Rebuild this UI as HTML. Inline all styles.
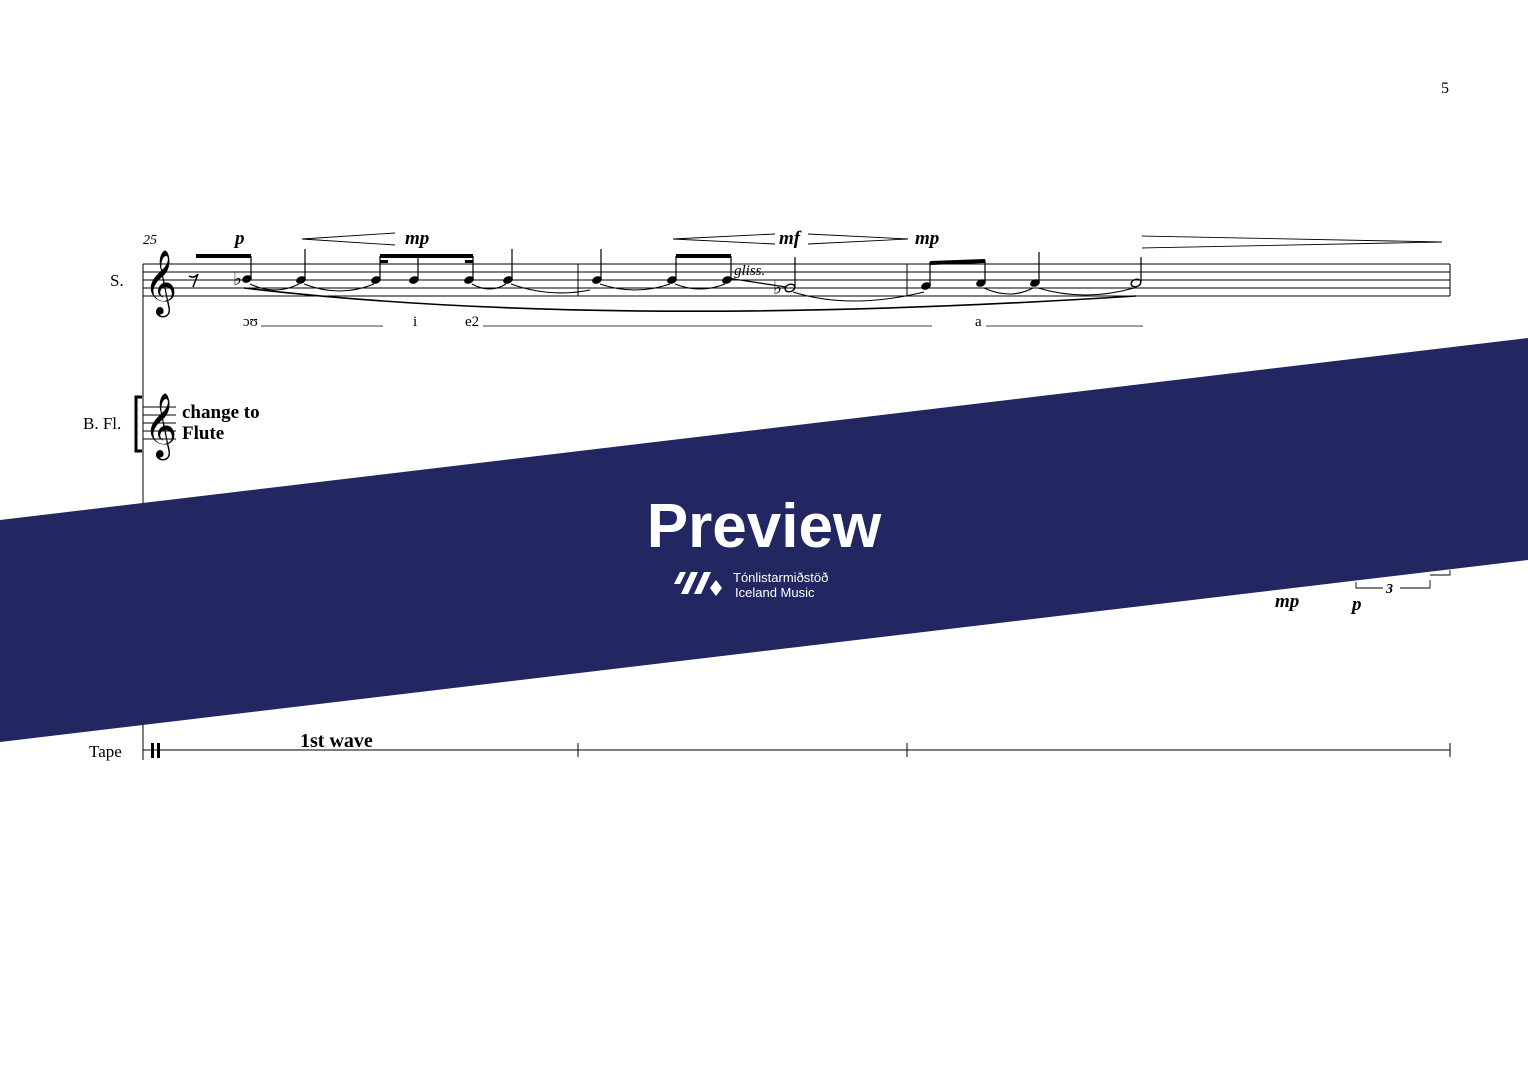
<!DOCTYPE html>
<html><head><meta charset="utf-8"><style>
body{margin:0;background:#fff;width:1528px;height:1080px;overflow:hidden}
svg{display:block}
text{font-family:"Liberation Serif",serif}
text.sans{font-family:"Liberation Sans",sans-serif}
text.dj{font-family:"DejaVu Sans",sans-serif}
</style></head><body>
<svg width="1528" height="1080" viewBox="0 0 1528 1080">
<rect width="1528" height="1080" fill="#fff"/>
<text x="1441" y="93" font-size="16">5</text>
<g stroke="#000" stroke-width="1">
<line x1="143" y1="264" x2="1450" y2="264"/><line x1="143" y1="272" x2="1450" y2="272"/>
<line x1="143" y1="280" x2="1450" y2="280"/><line x1="143" y1="288" x2="1450" y2="288"/>
<line x1="143" y1="296" x2="1450" y2="296"/>
<line x1="143" y1="264" x2="143" y2="760"/>
<line x1="578" y1="264" x2="578" y2="296"/><line x1="907" y1="264" x2="907" y2="296"/>
<line x1="1450" y1="264" x2="1450" y2="296"/>
<line x1="143" y1="407" x2="176" y2="407"/><line x1="143" y1="415" x2="176" y2="415"/>
<line x1="143" y1="423" x2="176" y2="423"/><line x1="143" y1="431" x2="176" y2="431"/>
<line x1="143" y1="439" x2="176" y2="439"/>
<line x1="143" y1="750" x2="1450" y2="750"/>
<line x1="578" y1="743" x2="578" y2="757"/><line x1="907" y1="743" x2="907" y2="757"/>
<line x1="1450" y1="743" x2="1450" y2="757"/>
</g>
<rect x="151" y="743" width="3" height="15" fill="#000"/><rect x="157" y="743" width="3" height="15" fill="#000"/>
<path d="M142 397 h-6 v54 h6" stroke="#000" stroke-width="3" fill="none"/>
<text x="110" y="286" font-size="17">S.</text>
<text x="83" y="429" font-size="17">B. Fl.</text>
<text x="89" y="757" font-size="17">Tape</text>
<text x="144" y="301" font-size="56" class="dj">𝄞</text>
<text x="144" y="444" font-size="56" class="dj">𝄞</text>
<text x="182" y="418" font-size="19" font-weight="bold">change to</text>
<text x="182" y="439" font-size="19" font-weight="bold">Flute</text>
<text x="300" y="747" font-size="20" font-weight="bold">1st wave</text>
<text x="143" y="244" font-size="14" font-style="italic">25</text>
<path d="M189 276 Q194 279 198 274 L193 287" stroke="#000" stroke-width="1.5" fill="none"/>
<g fill="#000">
<ellipse cx="247" cy="279" rx="5" ry="3.6" transform="rotate(-20 247 279)"/>
<ellipse cx="301" cy="280" rx="5" ry="3.6" transform="rotate(-20 301 280)"/>
<ellipse cx="376" cy="280" rx="5" ry="3.6" transform="rotate(-20 376 280)"/>
<ellipse cx="414" cy="280" rx="5" ry="3.6" transform="rotate(-20 414 280)"/>
<ellipse cx="469" cy="280" rx="5" ry="3.6" transform="rotate(-20 469 280)"/>
<ellipse cx="508" cy="280" rx="5" ry="3.6" transform="rotate(-20 508 280)"/>
<ellipse cx="597" cy="280" rx="5" ry="3.6" transform="rotate(-20 597 280)"/>
<ellipse cx="672" cy="280" rx="5" ry="3.6" transform="rotate(-20 672 280)"/>
<ellipse cx="727" cy="280" rx="5" ry="3.6" transform="rotate(-20 727 280)"/>
<ellipse cx="926" cy="286" rx="5" ry="3.6" transform="rotate(-20 926 286)"/>
<ellipse cx="981" cy="283" rx="5" ry="3.6" transform="rotate(-20 981 283)"/>
<ellipse cx="1035" cy="283" rx="5" ry="3.6" transform="rotate(-20 1035 283)"/>
</g>
<g fill="none" stroke="#000" stroke-width="1.4">
<ellipse cx="790" cy="288" rx="5" ry="3.6" transform="rotate(-20 790 288)"/>
<ellipse cx="1136" cy="283" rx="5" ry="3.6" transform="rotate(-20 1136 283)"/>
</g>
<text x="233" y="285" font-size="19">♭</text><text x="773" y="294" font-size="19">♭</text>
<g stroke="#000" stroke-width="1.2">
<line x1="251" y1="278" x2="251" y2="256"/><line x1="305" y1="279" x2="305" y2="249"/>
<line x1="380" y1="279" x2="380" y2="256"/><line x1="418" y1="279" x2="418" y2="256"/>
<line x1="473" y1="279" x2="473" y2="256"/><line x1="512" y1="279" x2="512" y2="249"/>
<line x1="601" y1="279" x2="601" y2="249"/><line x1="676" y1="279" x2="676" y2="256"/>
<line x1="731" y1="279" x2="731" y2="256"/><line x1="795" y1="287" x2="795" y2="257"/>
<line x1="930" y1="285" x2="930" y2="262"/><line x1="985" y1="282" x2="985" y2="260"/>
<line x1="1039" y1="282" x2="1039" y2="252"/><line x1="1141" y1="282" x2="1141" y2="257"/>
<line x1="727" y1="278" x2="786" y2="287"/>
</g>
<g fill="#000">
<rect x="196" y="254" width="55" height="4"/>
<rect x="380" y="254" width="93" height="4"/><rect x="380" y="260" width="8" height="3"/><rect x="465" y="260" width="8" height="3"/>
<rect x="676" y="254" width="55" height="4"/>
<polygon points="930,261 985,259 985,263 930,265"/>
</g>
<text x="734" y="275" font-size="15" font-style="italic">gliss.</text>
<g fill="none" stroke="#000" stroke-width="1.1">
<path d="M250 284 Q275 296 299 284"/><path d="M304 284 Q340 298 374 284"/>
<path d="M472 284 Q490 294 506 284"/><path d="M511 284 Q550 298 590 290"/>
<path d="M600 284 Q635 296 670 284"/><path d="M675 284 Q700 294 725 284"/>
<path d="M793 292 Q850 310 924 292"/><path d="M984 288 Q1010 300 1033 288"/>
<path d="M1038 288 Q1085 302 1134 288"/>
<path d="M244 288 Q600 330 1136 296" stroke-width="1.6"/>
</g>
<g font-size="15">
<text x="243" y="326">ɔʊ</text><text x="413" y="326">i</text><text x="465" y="326">e2</text><text x="975" y="326">a</text>
</g>
<g stroke="#000" stroke-width="0.8">
<line x1="261" y1="326" x2="383" y2="326"/><line x1="483" y1="326" x2="932" y2="326"/>
<line x1="986" y1="326" x2="1143" y2="326"/>
</g>
<g font-size="19" font-weight="bold" font-style="italic">
<text x="235" y="244">p</text><text x="405" y="244">mp</text><text x="779" y="244">mf</text>
<text x="915" y="244">mp</text><text x="1275" y="607">mp</text><text x="1352" y="610">p</text>
</g>
<g fill="none" stroke="#000" stroke-width="0.9">
<polyline points="395,233 302,239 395,245"/>
<polyline points="775,234 673,239 775,244"/>
<polyline points="808,234 908,239 808,244"/>
<polyline points="1142,236 1442,242 1142,248"/>
<polyline points="1356,582 1356,588 1383,588"/><polyline points="1400,588 1430,588 1430,580"/>
<polyline points="1450,570 1450,575 1430,575"/>
</g>
<text x="1386" y="593" font-size="14" font-weight="bold" font-style="italic">3</text>
<polygon points="0,520 1528,338 1528,560 0,742" fill="#232761"/>
<text x="764" y="547" font-size="62" font-weight="bold" fill="#fff" text-anchor="middle" class="sans">Preview</text>
<g fill="#fff">
<polygon points="680,572 686,572 680,584 674,584"/>
<polygon points="691,572 698,572 688,594 681,594"/>
<polygon points="704,572 711,572 701,594 694,594"/>
<polygon points="716,580 722,588 716,596 710,588"/>
</g>
<text x="733" y="582" font-size="13" fill="#fff" class="sans">Tónlistarmiðstöð</text>
<text x="735" y="597" font-size="13" fill="#fff" class="sans">Iceland Music</text>
</svg>
</body></html>
